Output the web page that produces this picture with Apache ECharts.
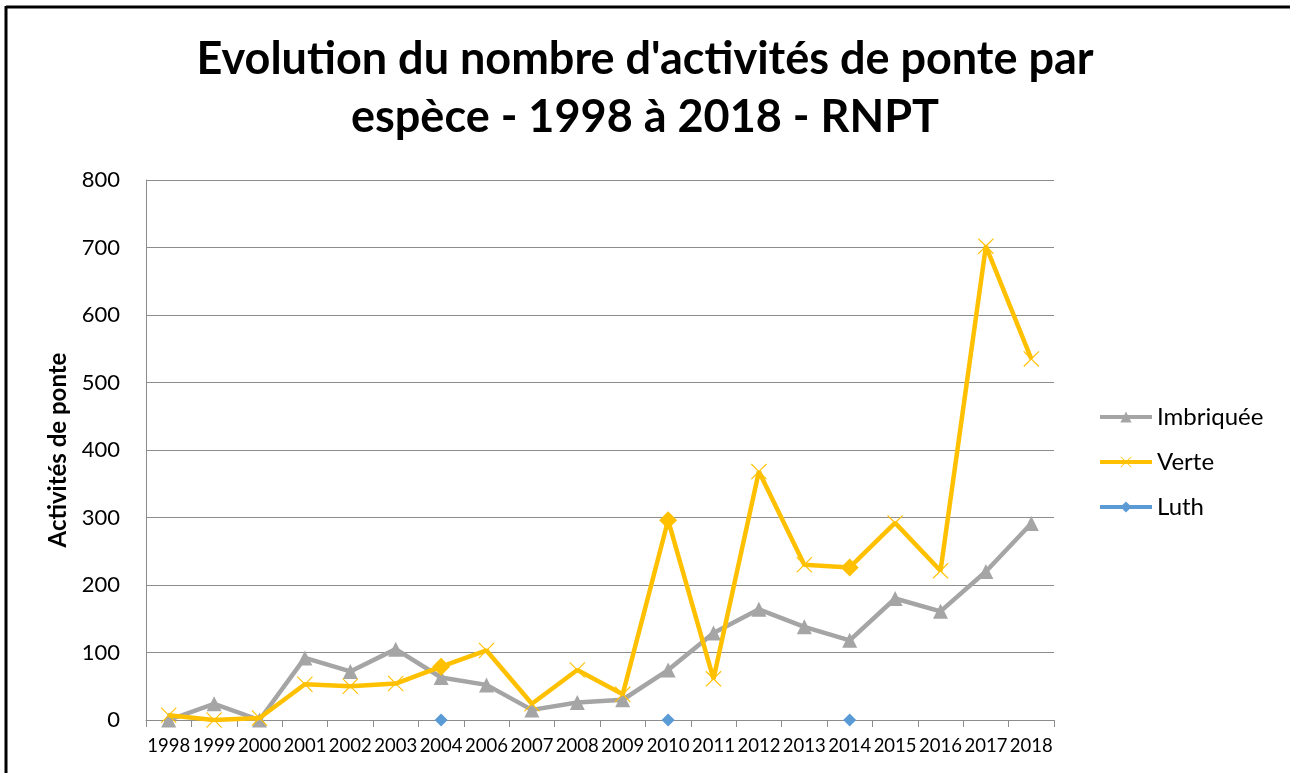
<!DOCTYPE html>
<html>
<head>
<meta charset="utf-8">
<script src="https://cdn.jsdelivr.net/npm/echarts@6/dist/echarts.min.js"></script>
<style>
  html, body { margin: 0; padding: 0; background: #fff; overflow: hidden; }
  #chart { width: 1290px; height: 773px; }
</style>
</head>
<body>
<div id="chart"></div>
<script>
// years on the axis (2005 is not in the source table)
var years = ['1998', '1999', '2000', '2001', '2002', '2003', '2004', '2006', '2007', '2008',
             '2009', '2010', '2011', '2012', '2013', '2014', '2015', '2016', '2017', '2018'];
var imbriquee = [0, 24, 0, 92, 72, 105, 63, 52, 15, 26, 30, 74, 129, 164, 138, 118, 180, 161, 220, 291];
var verte = [7, 0, 3, 53, 50, 54, 79, 103, 24, 74, 38, 296, 61, 368, 230, 226, 292, 221, 702, 535];
var luth = ['-', '-', '-', '-', '-', '-', 0, '-', '-', '-', '-', 0, '-', '-', '-', 0, '-', '-', '-', '-'];
// Verte points drawn with a diamond marker in the original
var verteDiamondYears = ['2004', '2010', '2014'];
var yTicks = [0, 100, 200, 300, 400, 500, 600, 700, 800];

var crossPath = 'path://M0,1L1,0L10,9L19,0L20,1L11,10L20,19L19,20L10,11L1,20L0,19L9,10Z';
var font = 'Lato, "Open Sans", sans-serif';

'use strict';
var dom = document.getElementById('chart');
var myChart = echarts.init(dom, null, { renderer: 'canvas' });

var verteData = verte.map(function (v, i) {
    if (verteDiamondYears.indexOf(years[i]) >= 0) {
        return { value: v, symbol: 'diamond', symbolSize: 18 };
    }
    return v;
});

var option = {
    backgroundColor: '#fff',
    animation: false,
    textStyle: { fontFamily: font },
    graphic: [
        // outer frame, only the top and left edges are visible
        {
            type: 'line',
            shape: { x1: 6, y1: 7, x2: 1290, y2: 7 },
            style: { stroke: '#000', lineWidth: 3 },
            silent: true
        },
        {
            type: 'line',
            shape: { x1: 6, y1: 6, x2: 6, y2: 773 },
            style: { stroke: '#000', lineWidth: 3 },
            silent: true
        }
    ],
    title: {
        text: "Evolution du nombre d'activités de ponte par\nespèce - 1998 à 2018 - RNPT",
        left: 'center',
        top: 25,
        textStyle: {
            fontFamily: font,
            fontSize: 45,
            fontWeight: 'bold',
            color: '#000',
            lineHeight: 58
        }
    },
    legend: {
        orient: 'vertical',
        left: 1093,
        top: 400,
        itemWidth: 52,
        itemHeight: 14,
        itemGap: 21,
        lineStyle: { width: 4 },
        textStyle: { fontFamily: font, fontSize: 24, color: '#000' },
        data: ['Imbriquée', 'Verte', 'Luth']
    },
    grid: {
        left: 146,
        right: 236,
        top: 180,
        bottom: 53
    },
    xAxis: {
        type: 'category',
        data: years,
        boundaryGap: true,
        axisLine: { lineStyle: { color: '#8c8c8c', width: 1 } },
        axisTick: { show: true, interval: 0, length: 7, lineStyle: { color: '#8c8c8c' } },
        axisLabel: { interval: 0, color: '#000', fontSize: 18.5, margin: 17, fontFamily: font },
        splitLine: { show: false }
    },
    yAxis: {
        type: 'value',
        min: yTicks[0],
        max: yTicks[yTicks.length - 1],
        interval: 100,
        name: 'Activités de ponte',
        nameLocation: 'middle',
        nameGap: 76,
        nameTextStyle: { fontFamily: font, fontSize: 24, fontWeight: 'bold', color: '#000' },
        axisLine: { show: true, lineStyle: { color: '#8c8c8c', width: 1 } },
        axisTick: { show: false },
        axisLabel: { color: '#000', fontSize: 22, margin: 26, fontFamily: font },
        splitLine: { lineStyle: { color: '#8c8c8c', width: 1 } }
    },
    series: [
        {
            name: 'Imbriquée',
            type: 'line',
            data: imbriquee,
            symbol: 'triangle',
            symbolSize: 15,
            showAllSymbol: true,
            lineStyle: { color: '#A5A5A5', width: 4.5 },
            itemStyle: { color: '#A5A5A5' },
            z: 2
        },
        {
            name: 'Verte',
            type: 'line',
            data: verteData,
            symbol: crossPath,
            symbolSize: 16,
            showAllSymbol: true,
            lineStyle: { color: '#FFC000', width: 4.5 },
            itemStyle: { color: '#FFC000' },
            z: 3
        },
        {
            name: 'Luth',
            type: 'line',
            data: luth,
            symbol: 'diamond',
            symbolSize: 13,
            showAllSymbol: true,
            connectNulls: false,
            lineStyle: { color: '#5B9BD5', width: 4.5 },
            itemStyle: { color: '#5B9BD5' },
            z: 4
        }
    ]
};

if (option && typeof option === 'object') {
    myChart.setOption(option);
}
</script>
</body>
</html>
